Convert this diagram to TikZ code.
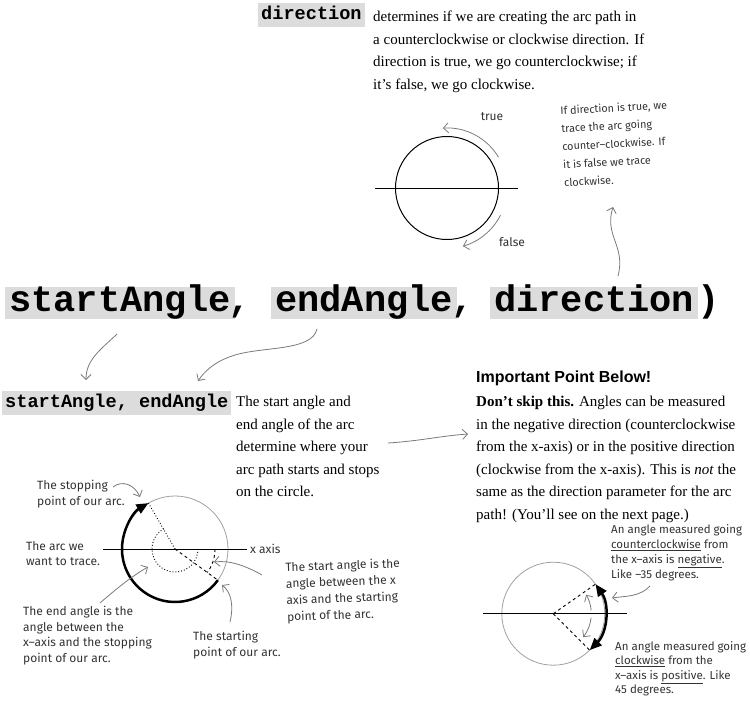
\documentclass[tikz,border=0pt]{standalone}
\usepackage{fontspec}
\setmainfont{Liberation Serif}
\newfontfamily\codefont{Liberation Mono}
\newfontfamily\headfont{Liberation Sans}
\newfontfamily\handfont{Fira Sans}
\usetikzlibrary{arrows.meta, positioning}
\definecolor{codegray}{HTML}{DCDCDC}
\definecolor{pencil}{HTML}{7A7A7A}
\definecolor{handink}{HTML}{333333}
\definecolor{rimgray}{HTML}{A0A0A0}
\tikzset{
  bigcode/.style={fill=codegray, font=\codefont\bfseries\fontsize{37}{37}\selectfont,
                  inner xsep=4pt, inner ysep=1.5pt, text height=22.5pt, text depth=6pt},
  bigpunct/.style={font=\codefont\bfseries\fontsize{37}{37}\selectfont, inner sep=0pt},
  smallcode/.style={fill=codegray, font=\codefont\bfseries\fontsize{18.6}{18.6}\selectfont,
                    inner xsep=3pt, inner ysep=4pt, text height=12pt, text depth=4pt},
  bodytext/.style={font=\fontsize{15}{22.5}\selectfont, align=left, inner sep=0pt},
  hand/.style={font=\handfont\fontsize{12}{15.5}\selectfont, text=handink,
               align=left, inner sep=0pt},
  pencilarrow/.style={draw=pencil, line width=0.8pt, -{Straight Barb[length=5pt,width=10pt]}},
  bigarc/.style={line width=2.5pt, line cap=butt},
  bigtip/.tip={Triangle[length=12pt,width=10pt]},
}
\begin{document}
\begin{tikzpicture}[x=1pt, y=1pt]
  \useasboundingbox (0,0) rectangle (750,-701);

  \node[smallcode, anchor=north west] (dirtag) at (258,-3) {direction};
  \node[bodytext, anchor=north west] (dirtext) at (373,-11)
    {determines if we are creating the arc path in\\
     a counterclockwise or clockwise direction. If\\
     direction is true, we go counterclockwise; if\\
     it’s false, we go clockwise.};

  \coordinate (dircirc) at (447,-188);
  \coordinate (diraxisl) at (375,-188);
  \coordinate (diraxisr) at (518,-188);
  \draw[line width=1pt] (dircirc) circle[radius=51.5pt];
  \draw[line width=1pt] (diraxisl) -- (diraxisr);
  \draw[pencilarrow] (dircirc) ++(31:60pt) arc[start angle=31, end angle=94, radius=60pt];
  \draw[pencilarrow] (dircirc) ++(-27:60pt) arc[start angle=-27, end angle=-74, radius=61pt];
  \node[hand] (truelbl) at (492,-117) {true};
  \node[hand] (falselbl) at (512,-242) {false};
  \node[hand, font=\handfont\fontsize{10.8}{18}\selectfont, anchor=north west, rotate=3]
    (dirnote) at (560,-106)
    {If direction is true, we\\ trace the arc going\\ counter–clockwise. If\\
     it is false we trace\\ clockwise.};

  \node[bigcode, anchor=north west] (startarg) at (5,-287) {startAngle};
  \node[bigpunct, anchor=base west] (comma1) at (228,-311) {,};
  \node[bigcode, anchor=north west] (endarg) at (271,-287) {endAngle};
  \node[bigpunct, anchor=base west] (comma2) at (451,-311) {,};
  \node[bigcode, anchor=north west] (dirarg) at (490,-287) {direction};
  \node[bigpunct, anchor=base west] (closeparen) at (697,-311) {)};
  \coordinate (notefoot) at (618,-276);
  \coordinate (notetip) at (613,-207);
  \draw[pencilarrow] (notefoot) .. controls (626,-246) and (604,-236) .. (notetip);

  \node[smallcode, anchor=north west] (angletag) at (2,-391) {startAngle, endAngle};
  \draw[pencilarrow] (startarg.south) ++(-3,-15) .. controls (100,-350) and (86,-360) .. (86,-380);
  \draw[pencilarrow] (endarg.south) ++(-47,-10) .. controls (312,-352) and (260,-346) .. (232,-356)
    .. controls (214,-362) and (204,-372) .. (198,-381);
  \node[bodytext, anchor=north west] (angletext) at (236,-396)
    {The start angle and\\ end angle of the arc\\ determine where your\\
     arc path starts and stops\\ on the circle.};
  \coordinate (linkfoot) at (388,-443);
  \coordinate (linktip) at (468,-434);
  \draw[pencilarrow] (linkfoot) .. controls (420,-441) and (440,-436) .. (linktip);

  \node[font=\headfont\bfseries\fontsize{16}{18}\selectfont, anchor=north west, inner sep=0pt]
    (importanthead) at (476,-371) {Important Point Below!};
  \node[bodytext, anchor=north west] (importanttext) at (476,-396)
    {\textbf{Don’t skip this.} Angles can be measured\\
     in the negative direction (counterclockwise\\
     from the x-axis) or in the positive direction\\
     (clockwise from the x-axis). This is \emph{not} the\\
     same as the direction parameter for the arc\\
     path! (You’ll see on the next page.)};

  \coordinate (arccirc) at (175,-549);
  \draw[rimgray, line width=0.8pt] (arccirc) circle[radius=53pt];
  \draw[line width=1pt] (103,-549) -- (247,-549);
  \draw[bigarc, -{bigtip}] (arccirc) ++(-36:53pt) arc[start angle=-36, end angle=-240, radius=53pt];
  \draw[line width=0.9pt, dotted] (arccirc) -- ++(120:53pt);
  \draw[line width=0.9pt, dashed] (arccirc) -- ++(-36:53pt);
  \draw[line width=0.9pt, dotted] (arccirc) ++(0:23pt) arc[start angle=0, end angle=-240, radius=23pt];
  \draw[line width=0.9pt, dashed] (arccirc) ++(0:40pt) arc[start angle=0, end angle=-36, radius=40pt];
  \node[hand, anchor=west] (xaxislbl) at (250,-549) {x axis};

  \node[hand, anchor=north west] (stoplbl) at (37,-480) {The stopping\\ point of our arc.};
  \draw[pencilarrow] (113,-487) .. controls (122,-480) and (134,-484) .. (140,-497);
  \node[hand, anchor=north west] (tracelbl) at (26,-541) {The arc we\\ want to trace.};
  \node[hand, anchor=north west] (endanglelbl) at (23,-606)
    {The end angle is the\\ angle between the\\ x–axis and the stopping\\ point of our arc.};
  \draw[pencilarrow] (100,-603) .. controls (115,-590) and (132,-576) .. (148,-567);
  \node[hand, anchor=north west] (startptlbl) at (193,-631) {The starting\\ point of our arc.};
  \draw[pencilarrow] (230,-622) .. controls (234,-605) and (231,-592) .. (222,-585);
  \node[hand, font=\handfont\fontsize{12}{16.5}\selectfont, anchor=north west, rotate=2]
    (startanglelbl) at (285,-562)
    {The start angle is the\\ angle between the x\\ axis and the starting\\ point of the arc.};
  \draw[pencilarrow] (262,-575) .. controls (246,-566) and (230,-560) .. (214,-562);

  \coordinate (signcirc) at (553.3,-613.7);
  \draw[rimgray, line width=0.8pt] (signcirc) circle[radius=51.5pt];
  \draw[line width=1pt] (483,-613.5) -- (627,-613.5);
  \draw[line width=0.9pt, dashed] (signcirc) -- ++(35:51.5pt);
  \draw[line width=0.9pt, dashed] (signcirc) -- ++(-45:51.5pt);
  \draw[bigarc, {bigtip}-{bigtip}] (signcirc) ++(35:51.5pt) arc[start angle=35, end angle=-45, radius=51.5pt];
  \draw[pencilarrow] (signcirc) ++(5:38pt) arc[start angle=5, end angle=30, radius=38pt];
  \draw[pencilarrow] (signcirc) ++(-6:38pt) arc[start angle=-6, end angle=-38, radius=38pt];
  \node[hand, font=\handfont\fontsize{11.5}{15}\selectfont, anchor=north west] (negnote) at (611,-524)
    {An angle measured going\\ \underline{counterclockwise} from\\
     the x–axis is \underline{negative}.\\ Like –35 degrees.};
  \draw[pencilarrow] (650,-586) .. controls (640,-597) and (625,-596) .. (612,-598);
  \node[hand, font=\handfont\fontsize{11.5}{14.5}\selectfont, anchor=north west] (posnote) at (615,-641)
    {An angle measured going\\ \underline{clockwise} from the\\
     x–axis is \underline{positive}. Like\\ 45 degrees.};
\end{tikzpicture}
\end{document}
